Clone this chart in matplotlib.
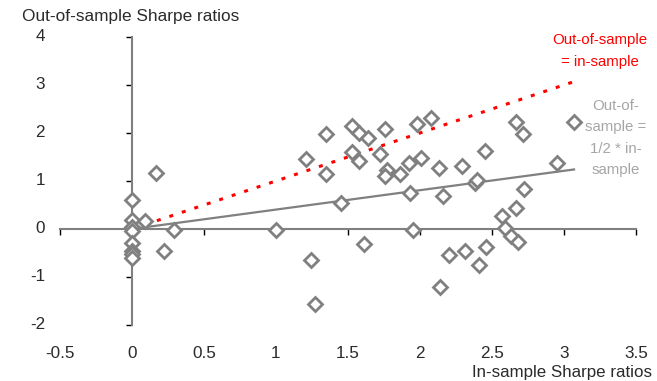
import matplotlib
matplotlib.use("Agg")
import matplotlib.pyplot as plt
import matplotlib.transforms as mtransforms

plt.rcParams['font.family'] = ['Liberation Sans', 'DejaVu Sans']

# in-sample vs out-of-sample Sharpe ratios
in_sample = [0, 0, 0, 0, 0, 0, 0, 0,
             0.09, 0.17, 0.22, 0.29,
             1.0, 1.21, 1.24, 1.27, 1.35, 1.35, 1.45,
             1.53, 1.53, 1.58, 1.58, 1.61, 1.64, 1.72, 1.76, 1.77, 1.76, 1.86,
             1.925, 1.93, 1.95, 1.98, 2.01, 2.08, 2.13, 2.14, 2.16, 2.2,
             2.29, 2.31, 2.38, 2.395, 2.41, 2.45, 2.46, 2.57, 2.59, 2.63,
             2.67, 2.67, 2.68, 2.715, 2.72, 2.95, 3.07]
out_sample = [0.6, 0.19, 0.05, -0.05, -0.3, -0.45, -0.52, -0.6,
              0.17, 1.16, -0.46, -0.03,
              -0.02, 1.45, -0.65, -1.57, 1.98, 1.15, 0.54,
              2.15, 1.61, 2.0, 1.42, -0.31, 1.9, 1.56, 2.08, 1.23, 1.11, 1.15,
              1.38, 0.74, -0.02, 2.19, 1.47, 2.32, 1.28, -1.2, 0.68, -0.55,
              1.32, -0.46, 0.95, 1.02, -0.74, 1.62, -0.37, 0.26, 0.02, -0.14,
              0.43, 2.23, -0.28, 1.97, 0.83, 1.37, 2.22]

line_x = [0, 3.07]
equal_y = [0, 3.07]
half_y = [0, 1.24]

x_ticks = [-0.5, 0, 0.5, 1, 1.5, 2, 2.5, 3, 3.5]
x_labels = ['-0.5', '0', '0.5', '1', '1.5', '2', '2.5', '3', '3.5']
y_ticks = [-2, -1, 0, 1, 2, 3, 4]
y_labels = ['-2', '-1', '0', '1', '2', '3', '4']

grey = '#808080'
txt = '#2b2b2b'

fig = plt.figure(figsize=(6.57, 3.81), dpi=100)
ax = fig.add_axes([0.0913, 0.147, 0.8767, 0.756])

ax.plot(line_x, half_y, color=grey, lw=1.6, zorder=2)
red, = ax.plot(line_x, equal_y, color='#ff0000', lw=2.2, zorder=2)
red.set_dashes((1.3, 3))
ax.plot(in_sample, out_sample, linestyle='none', marker='D', markersize=7.5,
        markerfacecolor='white', markeredgecolor=grey, markeredgewidth=2, zorder=3)

ax.set_xlim(-0.5, 3.5)
ax.set_ylim(-2, 4)

ax.spines['top'].set_visible(False)
ax.spines['right'].set_visible(False)
ax.spines['left'].set_position(('data', 0))
ax.spines['bottom'].set_position(('data', 0))
for s in ['left', 'bottom']:
    ax.spines[s].set_color(grey)
    ax.spines[s].set_linewidth(1.5)

ax.set_xticks(x_ticks)
ax.set_yticks(y_ticks)
ax.set_xticklabels([])
ax.set_yticklabels([])
ax.tick_params(axis='both', direction='out', length=4, width=1, color='black')

# tick labels sit at the low edge of the plot, like in the source
tx = mtransforms.blended_transform_factory(ax.transData, ax.transAxes)
for v, lab in zip(x_ticks, x_labels):
    ax.text(v, -0.1, lab, transform=tx, ha='center', va='center',
            fontsize=12.3, color=txt)
ty = mtransforms.blended_transform_factory(ax.transAxes, ax.transData)
for v, lab in zip(y_ticks, y_labels):
    ax.text(-0.026, v, lab, transform=ty, ha='right', va='center',
            fontsize=12.3, color=txt)

fig.text(22 / 657, 1 - 17 / 381, 'Out-of-sample Sharpe ratios', ha='left', va='center',
         fontsize=12.4, color=txt)
fig.text(652 / 657, 1 - 373 / 381, 'In-sample Sharpe ratios', ha='right', va='center',
         fontsize=12.2, color=txt)

fig.text(600 / 657, 1 - 51 / 381, 'Out-of-sample\n= in-sample', ha='center', va='center',
         fontsize=10.8, color='#ff0000', linespacing=1.72)
fig.text(616 / 657, 1 - 138 / 381, 'Out-of-\nsample =\n1/2 * in-\nsample', ha='center',
         va='center', fontsize=10.8, color='#a6a6a6', linespacing=1.65)

fig.savefig('out.png', dpi=100)
